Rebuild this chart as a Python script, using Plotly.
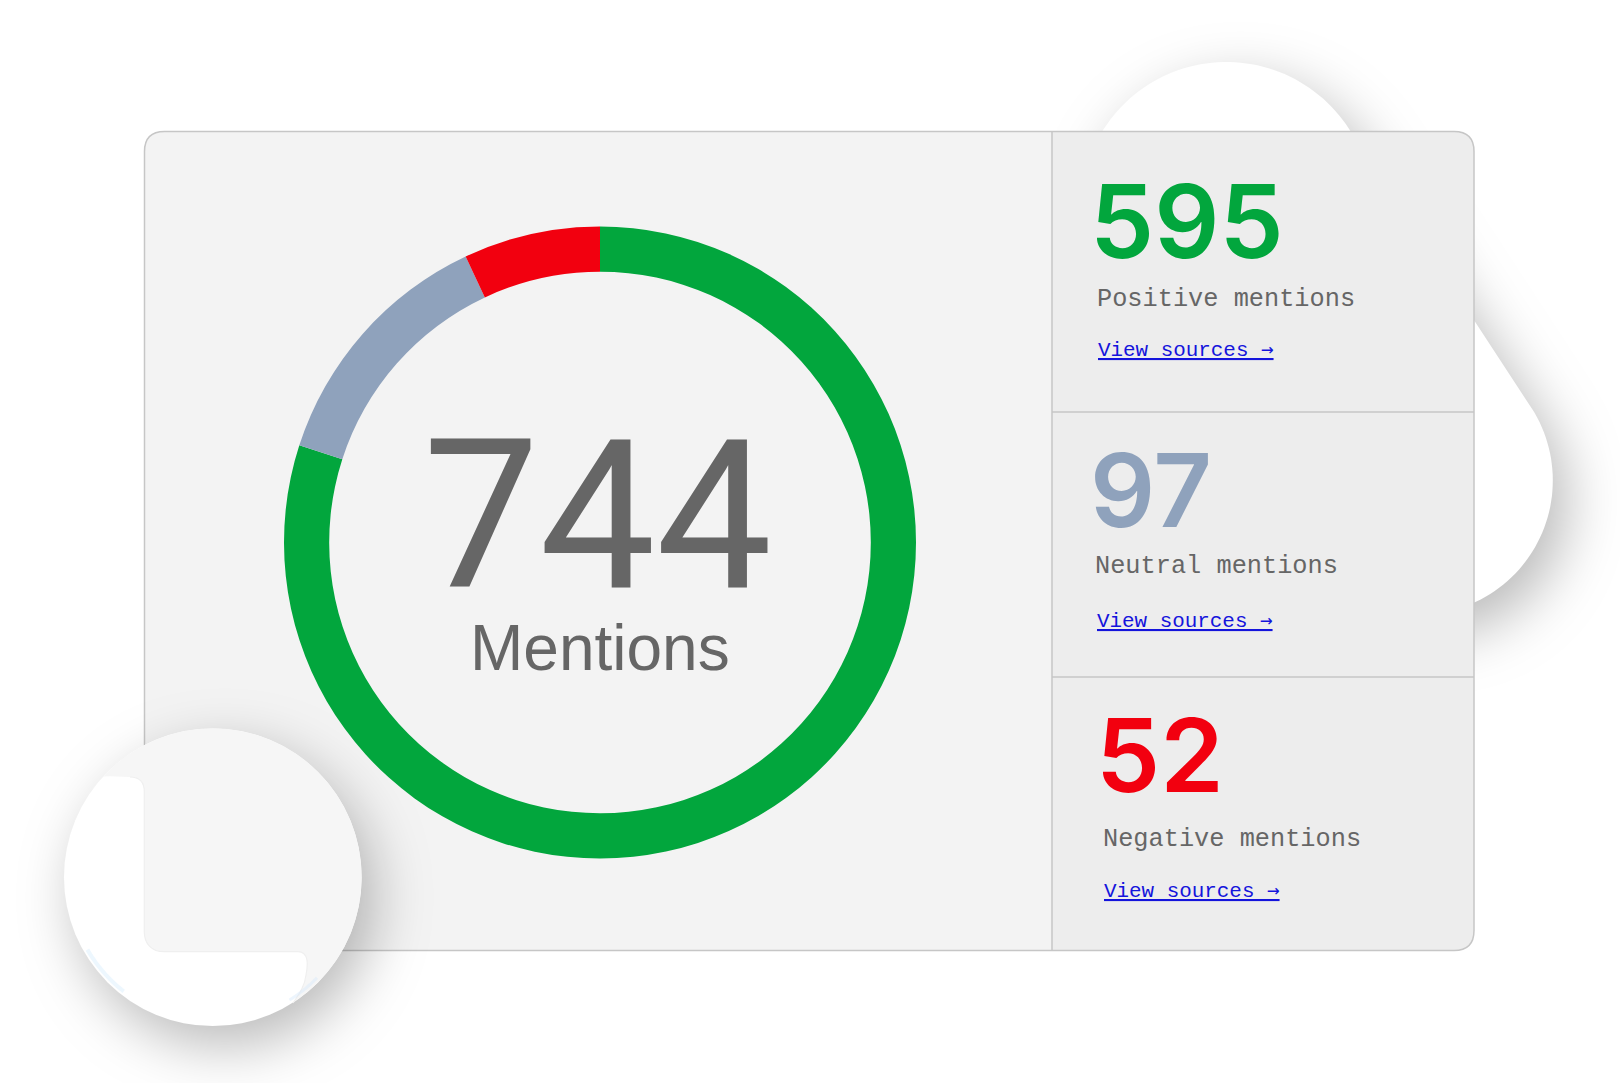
import numpy as np
import plotly.graph_objects as go

# ---- data ----
categories = ["Positive", "Neutral", "Negative"]
values = [595, 97, 52]
colors = ["#02A63D", "#8FA2BC", "#F2000F"]
center_label = "Mentions"
row_suffix = "mentions"
link_label = "View sources"
link_arrow = "→"

# ---- page geometry (pixels) ----
W, H = 1620, 1083
CARD = (144.5, 131.5, 1474, 950.5)
DIV_X = 1052
DIV_Y = (412, 677)
RING_C = (600, 542.5)
RING_R = 316
RING_HOLE = 0.857
TEXT_GREY = "#666666"
LINK = "#1414DC"

NUM_X = [1090, 1090, 1096]
NUM_Y = [221, 490, 755]
LAB_X = [1097, 1095, 1103]
LAB_Y = [299, 566, 839]
LNK_X = [1098, 1097, 1104]
LNK_Y = [349, 620, 890]


def pts(seq):
    return "M" + " L".join(f"{x:.1f},{y:.1f}" for x, y in seq)


def arc(c, r, a0, a1, n=60):
    t = np.radians(np.linspace(a0, a1, n))
    return list(zip(c[0] + r * np.cos(t), c[1] + r * np.sin(t)))


def rrect(x0, y0, x1, y1, r, corners="tl tr br bl"):
    c = corners.split()
    p = f"M{x0 + (r if 'tl' in c else 0)},{y0} L{x1 - (r if 'tr' in c else 0)},{y0} "
    if "tr" in c:
        p += f"Q{x1},{y0} {x1},{y0 + r} "
    p += f"L{x1},{y1 - (r if 'br' in c else 0)} "
    if "br" in c:
        p += f"Q{x1},{y1} {x1 - r},{y1} "
    p += f"L{x0 + (r if 'bl' in c else 0)},{y1} "
    if "bl" in c:
        p += f"Q{x0},{y1} {x0},{y1 - r} "
    p += f"L{x0},{y0 + (r if 'tl' in c else 0)} "
    if "tl" in c:
        p += f"Q{x0},{y0} {x0 + r},{y0} "
    return p + "Z"


# backdrop blob: hull of two circles, joined along their outer tangent
C1, R1 = (1226.4, 207.7), 145.7
C2, R2 = (1418.5, 480.4), 134.3
blob = arc(C1, R1, 125, 325, 90) + arc(C2, R2, -35, 125, 70)
LENS_C, LENS_R = (212.8, 877.2), 148.8
a0 = np.degrees(np.arctan2(776 - LENS_C[1], 103 - LENS_C[0]))
a1 = np.degrees(np.arctan2(1003 - LENS_C[1], 293 - LENS_C[0]))
lens_curve = ("L293,1003 C300,993 305,985 306,975 C308,965 309,952 298,951.7 "
              "L164,951.7 C152,951.7 144.3,944 144.3,932 L144.3,792 "
              "C144.3,782 140,777 130,777 L103,776")
lens_fill = pts(arc(LENS_C, LENS_R, a0, a1)) + " " + lens_curve + " Z"
lens_edge = "M293,1003 C300,993 305,985 306,975 C308,965 309,952 298,951.7 " \
            "L164,951.7 C152,951.7 144.3,944 144.3,932 L144.3,792 C144.3,782 140,777 130,777"
lens_tint_l = pts(arc(LENS_C, LENS_R - 4, 128, 150, 20))
lens_tint_r = pts(arc(LENS_C, LENS_R - 4, 44, 58, 20))

x0, y0, x1, y1 = CARD
BORDER = "#C6C6C6"
none = dict(width=0)
shapes = [
    dict(type="path", path=pts(blob) + " Z", fillcolor="#FFFFFF", line=none),
    dict(type="path", path=rrect(x0, y0, x1, y1, 20), fillcolor="#F3F3F3", line=none),
    dict(type="path", path=rrect(DIV_X, y0, x1, y1, 20, "tr br"), fillcolor="#EDEDED", line=none),
    dict(type="path", path=rrect(x0, y0, x1, y1, 20), fillcolor="rgba(0,0,0,0)",
         line=dict(color=BORDER, width=1.5)),
    dict(type="line", x0=DIV_X, x1=DIV_X, y0=y0, y1=y1, line=dict(color=BORDER, width=1.5)),
    dict(type="line", x0=DIV_X, x1=x1, y0=DIV_Y[0], y1=DIV_Y[0], line=dict(color=BORDER, width=1.5)),
    dict(type="line", x0=DIV_X, x1=x1, y0=DIV_Y[1], y1=DIV_Y[1], line=dict(color=BORDER, width=1.5)),
    dict(type="circle", x0=LENS_C[0] - LENS_R, x1=LENS_C[0] + LENS_R,
         y0=LENS_C[1] - LENS_R, y1=LENS_C[1] + LENS_R, fillcolor="#FFFFFF", line=none),
    dict(type="path", path=lens_fill, fillcolor="#F6F6F6", line=none),
    dict(type="path", path=lens_edge, fillcolor="rgba(0,0,0,0)", line=dict(color="#EFEFEF", width=1.2)),
    dict(type="path", path=lens_tint_l, fillcolor="rgba(0,0,0,0)",
         line=dict(color="rgba(215,238,252,0.45)", width=4)),
    dict(type="path", path=lens_tint_r, fillcolor="rgba(0,0,0,0)",
         line=dict(color="rgba(215,232,250,0.45)", width=3)),
]
for s in shapes:
    s.update(xref="x", yref="y", layer="below")
SHADOWED = {0: "drop-shadow(14px 20px 28px rgba(0,0,0,0.27))",
            7: "drop-shadow(12px 20px 28px rgba(0,0,0,0.27))"}

fig = go.Figure()
fig.add_trace(go.Pie(
    labels=categories, values=values, sort=False, direction="clockwise", rotation=0,
    hole=RING_HOLE, marker=dict(colors=colors, line=dict(width=0)),
    textinfo="none", hoverinfo="skip", showlegend=False,
    domain=dict(x=[(RING_C[0] - RING_R) / W, (RING_C[0] + RING_R) / W],
                y=[1 - (RING_C[1] + RING_R) / H, 1 - (RING_C[1] - RING_R) / H]),
))


def note(x, y, text, size, color, family, anchor="left", weight=None):
    font = dict(size=size, color=color, family=family)
    if weight:
        font["weight"] = weight
    fig.add_annotation(x=x, y=y, xref="x", yref="y", text=text, showarrow=False,
                       xanchor=anchor, yanchor="middle", align=anchor, font=font,
                       borderpad=0, borderwidth=0)


note(RING_C[0] - 3, 516, str(sum(values)), 207, TEXT_GREY, "Roboto", "center", weight=400)
note(RING_C[0], 648, center_label, 64, TEXT_GREY, "Liberation Sans", "center")
arrow = f"<span style=\"font-family:'DejaVu Sans Mono'\">{link_arrow}</span>"
for i, cat in enumerate(categories):
    note(NUM_X[i], NUM_Y[i], str(values[i]), 102, colors[i], "Inter", weight=600)
    note(LAB_X[i], LAB_Y[i], f"{cat} {row_suffix}", 25.3, TEXT_GREY, "Liberation Mono")
    note(LNK_X[i], LNK_Y[i], f"<u>{link_label} {arrow}</u>", 20.9, LINK, "Liberation Mono")

fig.update_layout(
    width=W, height=H, autosize=False, margin=dict(l=0, r=0, t=0, b=0),
    paper_bgcolor="#FFFFFF", plot_bgcolor="rgba(0,0,0,0)", shapes=shapes,
    xaxis=dict(range=[0, W], visible=False, fixedrange=True),
    yaxis=dict(range=[H, 0], visible=False, fixedrange=True),
)

shadow_js = """
document.documentElement.style.margin='0';document.body.style.margin='0';
document.body.style.overflow='hidden';
var gd=document.getElementById('{plot_id}');
var spec=%s;
function paint(){
  Object.keys(spec).forEach(function(i){
    gd.querySelectorAll('.shapelayer path[data-index="'+i+'"]').forEach(function(el){
      el.style.filter=spec[i];
    });
  });
}
paint();
if(gd.on){gd.on('plotly_afterplot',paint);}
setTimeout(paint,50);
""" % str({str(k): v for k, v in SHADOWED.items()})

fig.write_html("out.html", config=dict(displayModeBar=False, responsive=False), post_script=shadow_js)
